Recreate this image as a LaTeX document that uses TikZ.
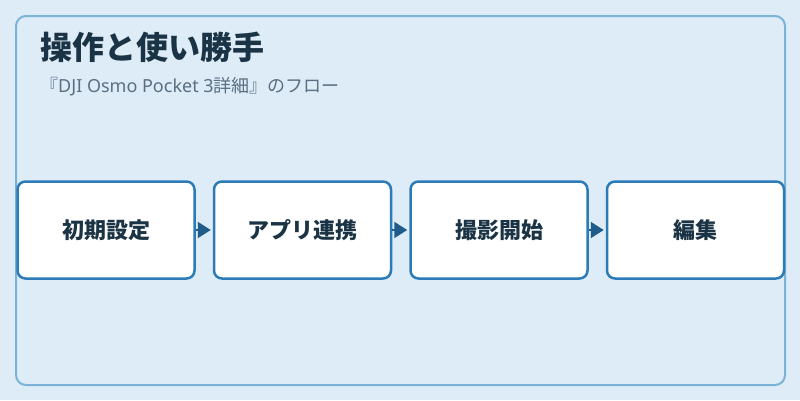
\documentclass[tikz,border=0pt]{standalone}
\usepackage{fontspec}
\setmainfont{Noto Sans CJK JP}
\newfontfamily\latinfont{Noto Sans}
\usetikzlibrary{positioning,arrows.meta}
\definecolor{pagebg}{HTML}{DDECF7}
\definecolor{framecol}{HTML}{7BB3D6}
\definecolor{boxcol}{HTML}{2B7BB8}
\definecolor{arrowcol}{HTML}{1F5C8A}
\definecolor{inkcol}{HTML}{1B3445}
\definecolor{subcol}{HTML}{5A6F82}

\begin{document}
\begin{tikzpicture}[
    x=1pt, y=-1pt,
    stepbox/.style={draw=boxcol, line width=2.5pt, fill=white, rounded corners=8pt,
        minimum width=177pt, minimum height=97pt, inner sep=0pt,
        font=\fontsize{22}{26}\selectfont\bfseries, text=inkcol},
    flowarrow/.style={draw=arrowcol, line width=2pt, -{Triangle[length=13pt, width=16pt]}, shorten >=2pt},
    heading/.style={anchor=base west, inner sep=0pt},
]
    \useasboundingbox (0,0) rectangle (800,400);
    \fill[pagebg] (0,0) rectangle (800,400);
    \draw[framecol, line width=2pt, rounded corners=10pt] (16,16) rectangle (785,385);

    \node[heading, font=\fontsize{32}{38}\selectfont\bfseries, text=inkcol] (title) at (40,59) {操作と使い勝手};
    \node[heading, font=\fontsize{18}{22}\selectfont, text=subcol] (subtitle) at (40,92) {『{\latinfont DJI Osmo Pocket 3}詳細』のフロー};

    \node[stepbox] (setup) at (106,230) {初期設定};
    \node[stepbox, right=17pt of setup] (app) {アプリ連携};
    \node[stepbox, right=17pt of app] (shoot) {撮影開始};
    \node[stepbox, right=17pt of shoot] (edit) {編集};

    \draw[flowarrow] (setup) -- (app);
    \draw[flowarrow] (app) -- (shoot);
    \draw[flowarrow] (shoot) -- (edit);
\end{tikzpicture}
\end{document}
